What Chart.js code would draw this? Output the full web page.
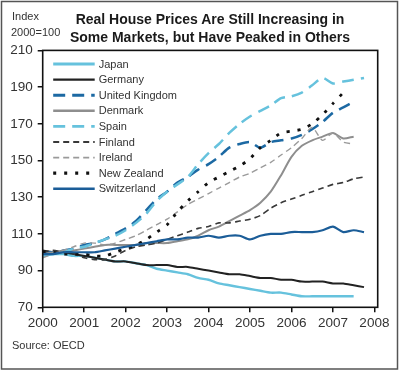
<!DOCTYPE html>
<html lang="en">
<head>
  <meta charset="UTF-8" />
  <title>Real House Prices</title>
  <script src="https://cdn.jsdelivr.net/npm/chart.js"></script>
  <style>
    body {
      margin: 0;
      background: #fff;
      font-family: 'Liberation Sans', Arial, sans-serif;
    }

    .wrap {
      position: relative;
      width: 400px;
      height: 371px;
    }

    .wrap canvas {
      position: absolute;
      left: 0;
      top: 0;
    }

    .txt {
      position: absolute;
      color: #333;
      white-space: nowrap;
      line-height: 1;
    }

    .title {
      left: 0;
      width: 420px;
      text-align: center;
      font-weight: bold;
      font-size: 14px;
      color: #1a1a1a;
    }

    .small {
      font-size: 11px;
    }
  </style>
</head>
<body>
  <div class="wrap">
    <canvas id="houseChart" width="400" height="371"></canvas>
    <div class="txt small" style="left:12px; top:11px;">Index</div>
    <div class="txt small" style="left:11px; top:27px;">2000=100</div>
    <div class="txt title" style="top:12px;">Real House Prices Are Still Increasing in</div>
    <div class="txt title" style="top:30px;">Some Markets, but Have Peaked in Others</div>
    <div class="txt small" style="left:12px; top:340px;">Source: OECD</div>
  </div>

  <script>
    // quarterly time axis
    const quarters = [
      2000, 2000.25, 2000.5, 2000.75, 2001, 2001.25, 2001.5, 2001.75,
      2002, 2002.25, 2002.5, 2002.75, 2003, 2003.25, 2003.5, 2003.75,
      2004, 2004.25, 2004.5, 2004.75, 2005, 2005.25, 2005.5, 2005.75,
      2006, 2006.25, 2006.5, 2006.75, 2007, 2007.25, 2007.5, 2007.75
    ];
    const yearTicks = [2000, 2001, 2002, 2003, 2004, 2005, 2006, 2007, 2008];

    // index values, 2000 = 100
    const japan = [99, 99, 99, 98, 98, 97, 96, 95, 95, 94, 93, 91, 90, 89, 88, 86, 85, 83, 82, 81, 80, 79, 78, 78, 77, 76, 76, 76, 76, 76, 76];
    const germany = [101, 100, 100, 99, 98, 97, 96, 95, 95, 94, 93, 93, 93, 92, 92, 91, 90, 89, 88, 88, 87, 86, 86, 85, 85, 84, 84, 84, 83, 83, 82, 81];
    const unitedKingdom = [100, 100, 101, 102, 104, 105, 107, 110, 113, 117, 123, 129, 133, 138, 141, 145, 148, 152, 157, 159, 160, 157, 160, 161, 162, 164, 167, 171, 176, 179, 182];
    const denmark = [99, 100, 101, 101, 102, 103, 104, 104, 104, 104, 105, 105, 105, 106, 107, 109, 112, 114, 117, 120, 123, 127, 133, 142, 152, 158, 161, 163, 165, 162, 163];
    const spain = [98, 99, 100, 102, 103, 105, 107, 109, 112, 116, 121, 128, 133, 137, 141, 148, 154, 159, 165, 170, 174, 177, 180, 184, 185, 187, 191, 195, 192, 193, 194, 195];
    const finland = [100, 101, 100, 99, 97, 96, 96, 98, 101, 103, 104, 105, 107, 109, 111, 113, 114, 116, 116, 117, 118, 120, 124, 127, 129, 131, 133, 135, 137, 138, 140, 141];
    const ireland = [97, 99, 101, 103, 105, 105, 104, 105, 107, 109, 112, 115, 118, 122, 126, 129, 132, 135, 138, 141, 143, 146, 149, 153, 157, 162, 168, 161, 165, 160, 159];
    const newZealand = [100, 100, 99, 99, 99, 98, 98, 100, 102, 104, 107, 111, 115, 122, 128, 133, 138, 141, 144, 147, 151, 157, 161, 165, 166, 167, 170, 175, 181, 187];
    const switzerland = [99, 99, 100, 100, 100, 100, 101, 102, 103, 104, 105, 106, 107, 107, 108, 108, 109, 108, 109, 109, 107, 109, 110, 110, 111, 111, 111, 112, 114, 111, 112, 111];

    function toPoints(values) {
      return values.map((v, i) => ({ x: quarters[i], y: v }));
    }

    function series(label, values, color, width, dash) {
      return {
        label: label,
        data: toPoints(values),
        borderColor: color,
        backgroundColor: color,
        borderWidth: width,
        borderDash: dash,
        pointRadius: 0,
        tension: 0.25,
        fill: false
      };
    }

    const datasets = [
      series('Japan', japan, '#66c2dd', 2.4, []),
      series('Germany', germany, '#222222', 2, []),
      series('United Kingdom', unitedKingdom, '#1c69a3', 2.5, [12, 7]),
      series('Denmark', denmark, '#8e8e8e', 2, []),
      series('Spain', spain, '#66c2dd', 2.5, [12, 7]),
      series('Finland', finland, '#383838', 1.6, [6, 4]),
      series('Ireland', ireland, '#9a9a9a', 1.4, [6, 4]),
      series('New Zealand', newZealand, '#111111', 2.8, [3, 8]),
      series('Switzerland', switzerland, '#1b5d98', 2.2, [])
    ];
    datasets.forEach((d, i) => { d.order = datasets.length - i; });

    // legend drawn inside the plot, top-left
    const insideLegend = {
      id: 'insideLegend',
      afterDatasetsDraw(chart) {
        const ctx = chart.ctx;
        const area = chart.chartArea;
        ctx.save();
        chart.data.datasets.forEach((ds, i) => {
          const y = area.top + 13.6 + i * 15.6;
          ctx.beginPath();
          ctx.strokeStyle = ds.borderColor;
          ctx.lineWidth = ds.borderWidth + 0.4;
          ctx.setLineDash(ds.borderDash);
          ctx.moveTo(area.left + 10.5, y);
          ctx.lineTo(area.left + 52, y);
          ctx.stroke();
          ctx.setLineDash([]);
          ctx.fillStyle = '#333';
          ctx.font = '11px "Liberation Sans", Arial, sans-serif';
          ctx.textBaseline = 'middle';
          ctx.fillText(ds.label, area.left + 56, y + 0.5);
        });
        ctx.restore();
      }
    };

    // plot frame and outer border
    const frames = {
      id: 'frames',
      afterDraw(chart) {
        const ctx = chart.ctx;
        const a = chart.chartArea;
        ctx.save();
        ctx.strokeStyle = '#111';
        ctx.lineWidth = 1.6;
        ctx.strokeRect(a.left, a.top, a.right - a.left, a.bottom - a.top);
        ctx.strokeStyle = '#555';
        ctx.lineWidth = 1.5;
        ctx.strokeRect(1.5, 1.5, 396, 367.5);
        ctx.restore();
      }
    };

    const tickFont = { family: '"Liberation Sans", Arial, sans-serif', size: 13.5 };

    new Chart(document.getElementById('houseChart'), {
      type: 'line',
      data: { datasets: datasets },
      options: {
        responsive: false,
        animation: false,
        layout: {
          padding: { top: 50.4, right: 22.3, bottom: 33.7, left: 0 }
        },
        scales: {
          x: {
            type: 'linear',
            min: 2000,
            max: 2008.08,
            afterBuildTicks: s => { s.ticks = yearTicks.map(v => ({ value: v })); },
            afterFit: s => { s.height = 30; },
            ticks: {
              color: '#333',
              font: tickFont,
              padding: 3,
              maxRotation: 0,
              autoSkip: false,
              callback: v => String(v)
            },
            grid: { drawOnChartArea: false, drawTicks: true, tickLength: 5, color: '#111', lineWidth: 1.5 },
            border: { display: false }
          },
          y: {
            min: 70,
            max: 210,
            afterFit: s => { s.width = 42.7; },
            ticks: {
              stepSize: 20,
              color: '#333',
              font: tickFont,
              padding: 5
            },
            grid: { drawOnChartArea: false, drawTicks: true, tickLength: 5, color: '#111', lineWidth: 1.5 },
            border: { display: false }
          }
        },
        plugins: {
          legend: { display: false },
          tooltip: { enabled: false }
        }
      },
      plugins: [insideLegend, frames]
    });
  </script>
</body>
</html>
